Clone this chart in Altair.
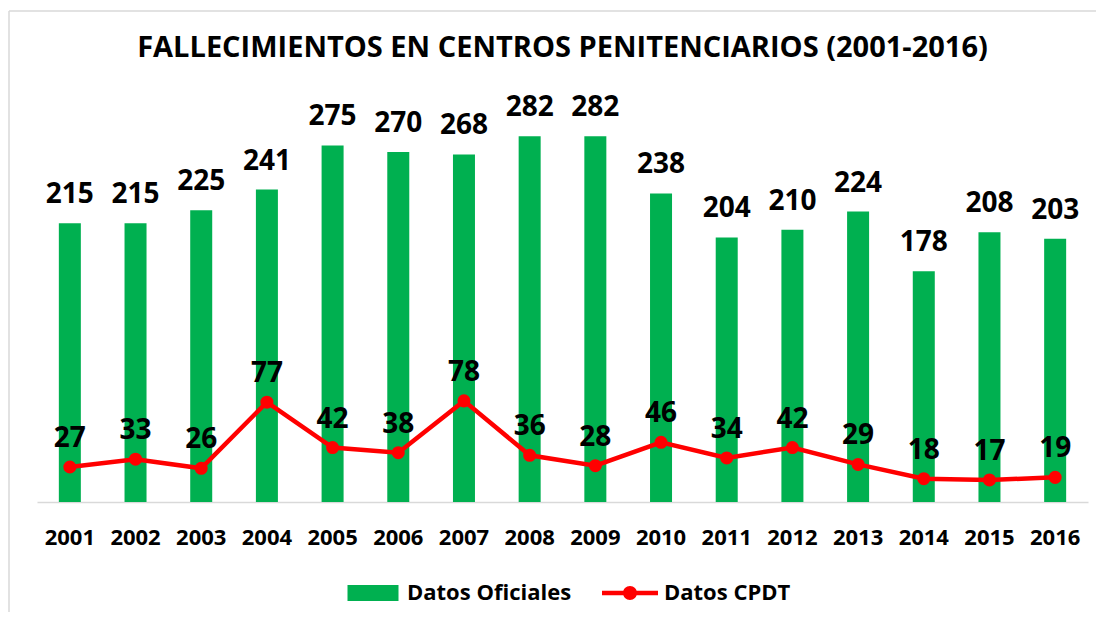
import altair as alt
import pandas as pd

years = [str(y) for y in range(2001, 2017)]
oficiales = [215, 215, 225, 241, 275, 270, 268, 282, 282, 238, 204, 210, 224, 178, 208, 203]
cpdt = [27, 33, 26, 77, 42, 38, 78, 36, 28, 46, 34, 42, 29, 18, 17, 19]
series_names = ["Datos Oficiales", "Datos CPDT"]
colors = ["#00B050", "#FF0000"]

df_bar = pd.DataFrame({"year": years, "value": oficiales, "series": series_names[0]})
df_line = pd.DataFrame({"year": years, "value": cpdt, "series": series_names[1]})

FONT = "Open Sans"

x_enc = alt.X("year:N", sort=years,
              scale=alt.Scale(paddingInner=0.665, paddingOuter=0.3325),
              axis=alt.Axis(title=None, labelAngle=0, labelFont=FONT, labelFontSize=22,
                            labelFontWeight="bold", labelColor="black", ticks=False,
                            labelPadding=25, domainColor="#d9d9d9", domainWidth=1.5))
y_enc = alt.Y("value:Q", scale=alt.Scale(domain=[0, 300], nice=False), axis=None)

bars = alt.Chart(df_bar).mark_bar(color=colors[0]).encode(x=x_enc, y=y_enc)
bar_text = alt.Chart(df_bar).mark_text(
    dy=-20, baseline="alphabetic", font=FONT, fontSize=28, fontWeight="bold", color="black"
).encode(x=x_enc, y=y_enc, text="value:Q")

line = alt.Chart(df_line).mark_line(color=colors[1], strokeWidth=4.5).encode(x=x_enc, y=y_enc)
pts = alt.Chart(df_line).mark_point(filled=True, color=colors[1], size=170, opacity=1).encode(x=x_enc, y=y_enc)
line_text = alt.Chart(df_line).mark_text(
    dy=-20, baseline="alphabetic", font=FONT, fontSize=28, fontWeight="bold", color="black"
).encode(x=x_enc, y=y_enc, text="value:Q")

rect_path = "M-2.55,-0.8H2.55V0.8H-2.55Z"
linedot_path = ("M-2.8,-0.22H2.8V0.22H-2.8Z "
                "M-0.7,0A0.7,0.7 0 1,1 0.7,0A0.7,0.7 0 1,1 -0.7,0Z")

legend_layer = alt.Chart(df_line).transform_filter(alt.datum.value < 0).mark_point(
    filled=True, opacity=1
).encode(
    x=x_enc, y=y_enc,
    color=alt.Color("series:N", scale=alt.Scale(domain=series_names, range=colors),
                    legend=alt.Legend(title=None, orient="none", direction="horizontal",
                                      legendX=325, legendY=469, labelLimit=400,
                                      labelFont=FONT, labelFontSize=22, labelFontWeight="bold",
                                      labelColor="black", symbolSize=400, symbolStrokeWidth=0,
                                      symbolOpacity=1, labelOffset=23, columnPadding=30)),
    shape=alt.Shape("series:N", scale=alt.Scale(domain=series_names, range=[rect_path, linedot_path]),
                    legend=None),
)

border_df = pd.DataFrame({"k": [0]})
border_top = alt.Chart(border_df).mark_rule(color="#d9d9d9", strokeWidth=1.5).encode(
    x=alt.value(-28), x2=alt.value(1080), y=alt.value(-102))
border_left = alt.Chart(border_df).mark_rule(color="#d9d9d9", strokeWidth=1.5).encode(
    x=alt.value(-28), y=alt.value(-102), y2=alt.value(510))

chart = alt.layer(bars, bar_text, line, pts, line_text, legend_layer, border_top, border_left).properties(
    width=1051, height=389,
    title=alt.TitleParams("FALLECIMIENTOS EN CENTROS PENITENCIARIOS (2001-2016)",
                          font=FONT, fontSize=29, fontWeight="bold", color="black",
                          anchor="middle", baseline="alphabetic", offset=-76),
    autosize=alt.AutoSizeParams(type="none"),
    padding={"left": 29, "top": 105, "right": 8, "bottom": 110},
).configure(background="white").configure_view(stroke=None)

chart.save("out.html", embed_options={"renderer": "svg", "actions": False})
